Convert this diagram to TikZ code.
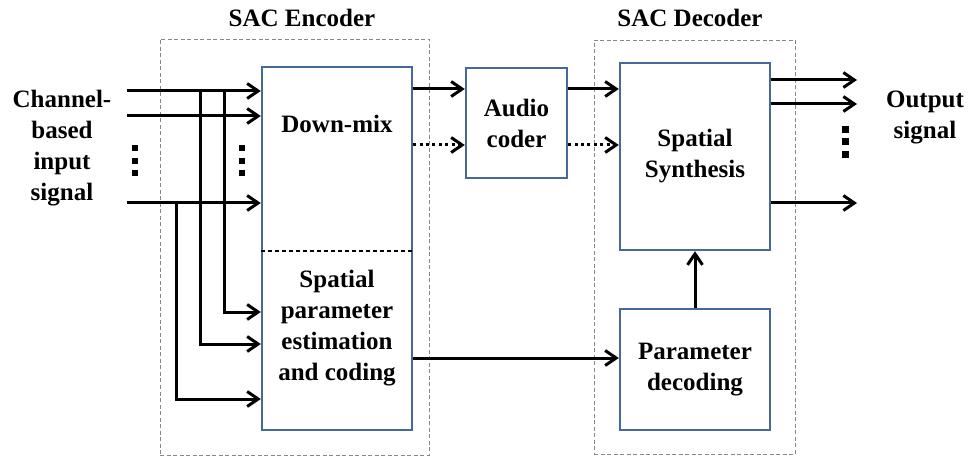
\documentclass[tikz,border=0pt]{standalone}
\usepackage{fontspec}
\setmainfont{Liberation Serif}[BoldFont={Liberation Serif Bold}]
\newfontfamily\diagfont{Liberation Serif Bold}
\usetikzlibrary{arrows.meta}
\definecolor{boxblue}{RGB}{70,105,155}
\definecolor{framegray}{RGB}{135,135,135}
\begin{document}
\begin{tikzpicture}[x=1pt,y=-1pt,
  every node/.style={font=\diagfont\fontsize{25}{31}\selectfont},
  block/.style={draw=boxblue, line width=2.4pt, fill=white, inner sep=0pt, align=center},
  frame/.style={draw=framegray, line width=0.9pt, dash pattern=on 4pt off 2.5pt, inner sep=0pt},
  arr/.style={line width=3pt, -{Straight Barb[length=11pt,width=15pt]}},
  dotarr/.style={arr, dash pattern=on 3pt off 3.4pt},
  txt/.style={align=center, inner sep=0pt},
  dotmark/.style={fill=black}]
\useasboundingbox (0,0) rectangle (969,457);

% dashed frames of encoder and decoder
\node[frame, minimum width=269, minimum height=416] (encframe) at (294.5,247) {};
\node[frame, minimum width=201, minimum height=414] (decframe) at (694.5,247) {};
\node[txt, anchor=base] (enctitle) at (302,27) {SAC Encoder};
\node[txt, anchor=base] (dectitle) at (690,27) {SAC Decoder};

% processing blocks
\node[block, minimum width=150, minimum height=363] (enc) at (337,248.5) {};
\node[block, minimum width=101, minimum height=110] (coder) at (516.5,123) {Audio\\coder};
\node[block, minimum width=150, minimum height=187] (synth) at (695,156.5) {Spatial\\Synthesis};
\node[block, minimum width=150, minimum height=121] (pdec) at (695,369.5) {Parameter\\decoding};

% encoder split into two parts
\coordinate (lvdiv) at (0,251);
\draw[line width=1.2pt, dash pattern=on 4pt off 3pt] (enc.west |- lvdiv) -- (enc.east |- lvdiv);
\node[txt, anchor=base] (dmix) at (337,133) {Down-mix};
\node[txt] (spest) at (337,328) {Spatial\\parameter\\estimation\\and coding};

% input signals
\node[txt] (inlabel) at (62,148) {Channel-\\based\\input\\signal};
\coordinate (in1) at (127,91);
\coordinate (in2) at (127,116);
\coordinate (in3) at (127,203);
\draw[arr] (in1) -- (in1 -| enc.west);
\draw[arr] (in2) -- (in2 -| enc.west);
\draw[arr] (in3) -- (in3 -| enc.west);

% branches feeding the parameter estimation
\coordinate (b1) at (224,91);
\coordinate (b2) at (200,91);
\coordinate (b3) at (176,203);
\coordinate (lv1) at (0,312);
\coordinate (lv2) at (0,344);
\coordinate (lv3) at (0,399);
\draw[arr] (b1) |- (enc.west |- lv1);
\draw[arr] (b2) |- (enc.west |- lv2);
\draw[arr] (b3) |- (enc.west |- lv3);

% down-mix and parameter paths
\coordinate (lvmix) at (0,89);
\coordinate (lvres) at (0,145);
\coordinate (lvpar) at (0,358);
\draw[arr] (enc.east |- lvmix) -- (coder.west |- lvmix);
\draw[dotarr] (enc.east |- lvres) -- (coder.west |- lvres);
\draw[arr] (coder.east |- lvmix) -- (synth.west |- lvmix);
\draw[dotarr] (coder.east |- lvres) -- (synth.west |- lvres);
\draw[arr] (enc.east |- lvpar) -- (pdec.west |- lvpar);
\draw[arr] (pdec.north) -- (synth.south);

% output signals
\coordinate (o1) at (857,80);
\coordinate (o2) at (857,104);
\coordinate (o3) at (857,203);
\draw[arr] (synth.east |- o1) -- (o1);
\draw[arr] (synth.east |- o2) -- (o2);
\draw[arr] (synth.east |- o3) -- (o3);
\node[txt] (outlabel) at (925,117) {Output\\signal};

% vertical ellipses
\foreach \cx/\cy in {135/148, 135/161, 135/173, 242/148, 242/161, 242/173}
  \fill[dotmark] (\cx-3,\cy-3) rectangle (\cx+3,\cy+3);
\foreach \cy in {130, 142, 155}
  \fill[dotmark] (845-3.5,\cy-3.5) rectangle (845+3.5,\cy+3.5);
\end{tikzpicture}
\end{document}
